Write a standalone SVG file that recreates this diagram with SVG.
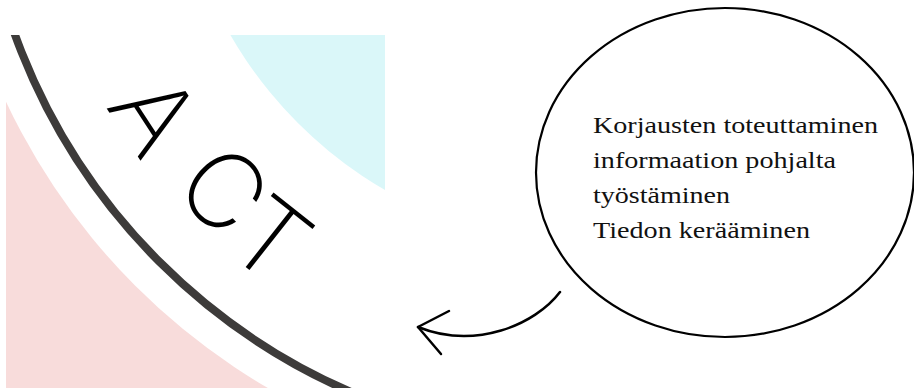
<svg xmlns="http://www.w3.org/2000/svg" width="914" height="392" viewBox="0 0 914 392">
  <defs>
    <clipPath id="imgClip"><rect x="6" y="35" width="379" height="353"/></clipPath>
    <style>
      .act { font-family: "Inter", "Lato", "Liberation Sans", sans-serif; font-size: 104px; font-weight: 250; fill: #000; text-anchor: middle; }
      .bubble-text { font-family: "Liberation Serif", "Times New Roman", serif; font-size: 24px; fill: #111; }
      .line { fill: none; stroke: #000; stroke-width: 2.5; stroke-linecap: round; stroke-linejoin: round; }
    </style>
  </defs>
  <rect width="914" height="392" fill="#ffffff"/>
  <g id="act-image" clip-path="url(#imgClip)">
    <rect x="6" y="35" width="379" height="353" fill="#f8dcdb"/>
    <circle cx="597" cy="-176" r="653" fill="#ffffff"/>
    <circle cx="597" cy="-176" r="423" fill="#daf7f9"/>
    <circle cx="597" cy="-176" r="619" fill="none" stroke="#3d3b3a" stroke-width="8"/>
    <text class="act" transform="translate(123.5,134.5) rotate(57)">A</text>
    <text class="act" transform="translate(197.5,216.5) rotate(45.5)">C</text>
    <text class="act" transform="translate(247.5,268.5) rotate(38.25)">T</text>
  </g>
  <g id="bubble">
    <ellipse cx="725" cy="172.5" rx="189" ry="164.5" fill="none" stroke="#000" stroke-width="2.2"/>
    <text class="bubble-text" x="593" y="133" textLength="285" lengthAdjust="spacingAndGlyphs">Korjausten toteuttaminen</text>
    <text class="bubble-text" x="593" y="168" textLength="243" lengthAdjust="spacingAndGlyphs">informaation pohjalta</text>
    <text class="bubble-text" x="593" y="203" textLength="137" lengthAdjust="spacingAndGlyphs">työstäminen</text>
    <text class="bubble-text" x="593" y="238" textLength="217" lengthAdjust="spacingAndGlyphs">Tiedon kerääminen</text>
  </g>
  <g id="connectors">
    <path class="line" d="M560,292 C535,325 475,350 418,327"/>
    <polyline class="line" points="449,311 418,327 441,354"/>
  </g>
</svg>
